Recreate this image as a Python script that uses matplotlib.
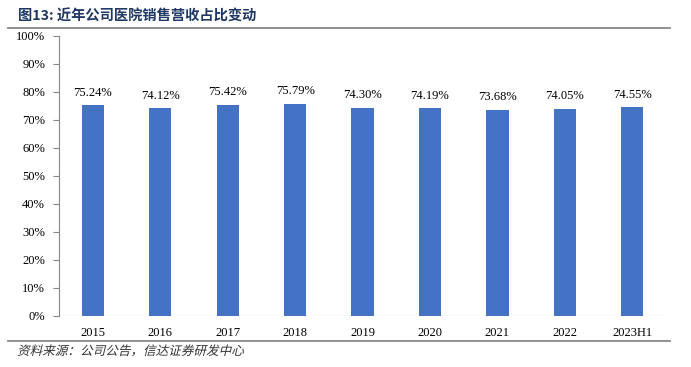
import matplotlib.pyplot as plt
from matplotlib.lines import Line2D
from matplotlib.textpath import TextPath
from matplotlib.patches import PathPatch
from matplotlib.font_manager import FontProperties
from matplotlib.transforms import Affine2D

years = ["2015", "2016", "2017", "2018", "2019", "2020", "2021", "2022", "2023H1"]
share = [75.24, 74.12, 75.42, 75.79, 74.30, 74.19, 73.68, 74.05, 74.55]
yticks = list(range(0, 101, 10))

serif = ["Liberation Serif", "Noto Sans CJK SC"]
cjk = ["Noto Sans CJK SC", "DejaVu Sans"]

fig = plt.figure(figsize=(6.91, 3.67), dpi=100)
ax = fig.add_axes([0.0854, 0.139, 0.8785, 0.763])

x = range(len(years))
ax.bar(x, share, width=0.33, color="#4472C4")
for i, v in zip(x, share):
    ax.text(i, v + 2.3, f"{v:.2f}%", ha="center", va="bottom", fontsize=9, family=serif)

ax.set_xlim(-0.5, len(years) - 0.5)
ax.set_ylim(0, 100)
ax.set_yticks(yticks)
ax.set_yticklabels([f"{t}%" for t in yticks], family=serif, fontsize=9)
ax.set_xticks(list(x))
ax.set_xticklabels(years, family=serif, fontsize=9)
ax.tick_params(axis="x", length=0, pad=8)
ax.tick_params(axis="y", length=4, color="#888888", pad=6)
for s in ["top", "right", "bottom"]:
    ax.spines[s].set_visible(False)
ax.spines["left"].set_color("#888888")
ax.axhline(0, color="#888888", lw=0.8)

fig.text(0.026, 0.955, "图13: 近年公司医院销售营收占比变动", family=cjk, fontsize=10.3,
         fontweight="bold", color="#1F3864", va="center")
fig.add_artist(Line2D([0.012, 0.970], [0.924, 0.924], color="#888888", lw=1.3))
fig.add_artist(Line2D([0.012, 0.970], [0.071, 0.071], color="#888888", lw=1.3))

# source line, slanted by hand since the CJK font has no italic (pixel coords)
src = "资料来源：公司公告，信达证券研发中心"
tp = TextPath((0, 0), src, size=12.6, prop=FontProperties(family="Noto Sans CJK SC", weight="light"))
fig.add_artist(PathPatch(tp, transform=Affine2D().skew_deg(14, 0).translate(17, 12),
                         color="#333333", lw=0))

fig.savefig("out.png", dpi=100)
